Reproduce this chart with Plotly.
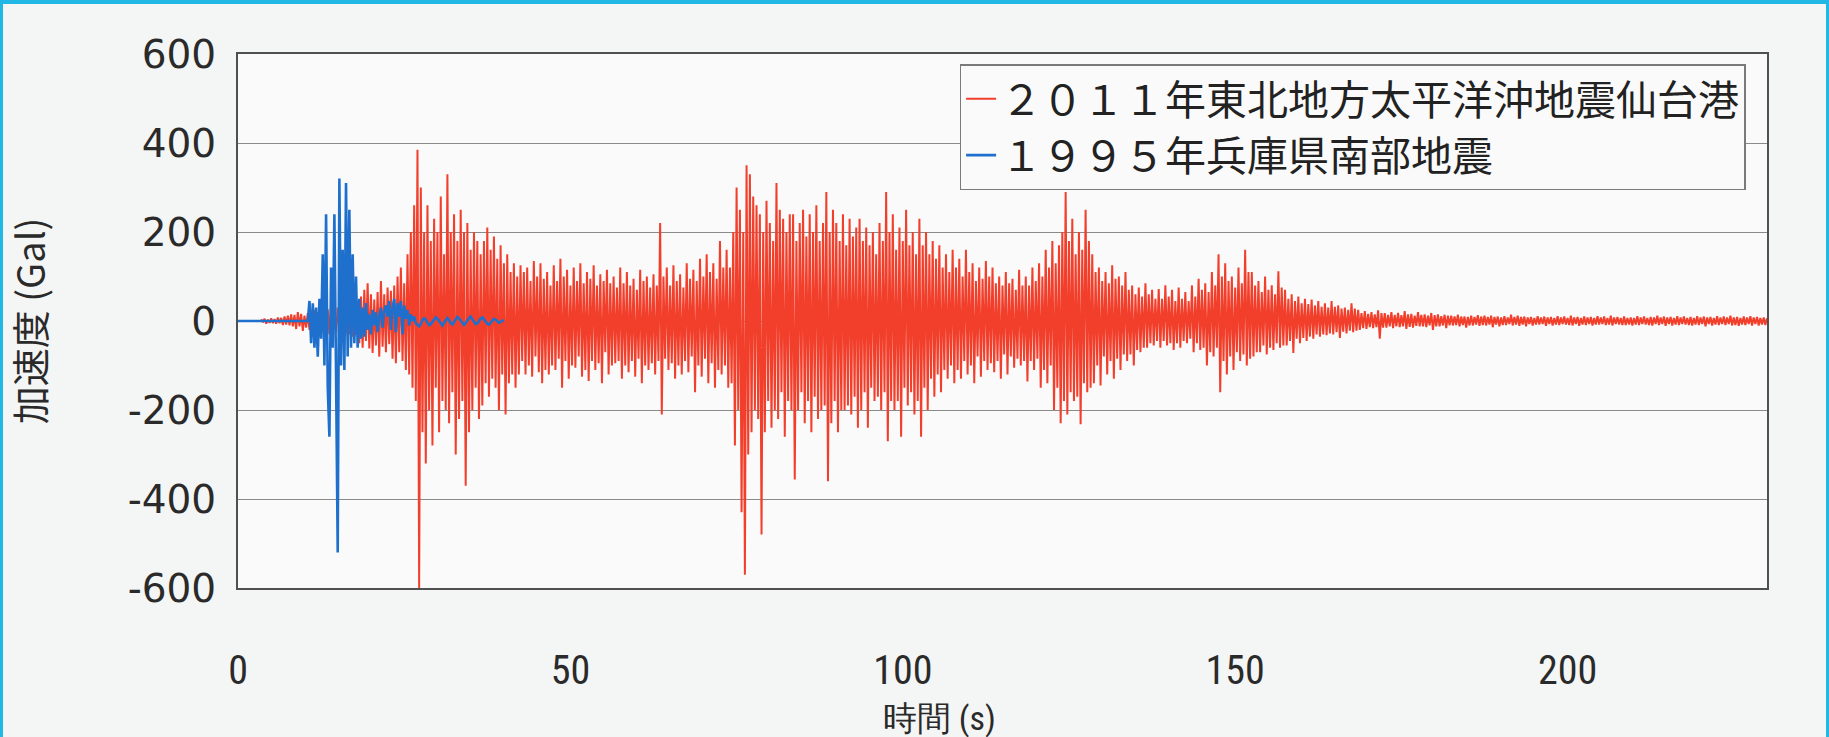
import numpy as np
import plotly.graph_objects as go

# 2011年東北地方太平洋沖地震 — 仙台港: acceleration (Gal), one value every 0.25 s from 3.5 s
SENDAI_T0 = 3.5
SENDAI_DT = 0.25
SENDAI_GAL = [
    4, -3, 5, -6, 3, -4, 6, -5, 4, -6, 8, -5, 7, -9, 10, -8, 12, -10, 15, -12,
    14, -18, 20, -12, 16, -22, 12, -15, 18, -20, 14, -18, 25, -16, 20, -14, 22, -25, 18, -28,
    26, -30, 35, -20, 28, -25, 30, -22, 20, -40, 32, -28, 45, -30, 38, -35, 40, -32, 30, -50,
    55, -60, 70, -45, 85, -62, 60, -72, 48, -55, 65, -80, 90, -58, 60, -70, 75, -52, 68, -85,
    80, -95, 100, -70, 120, -90, 85, -110, 150, -120, 200, -150, 260, -180, 385, -600, 300, -250, 200, -320,
    260, -200, 180, -280, 230, -150, 200, -250, 280, -180, 150, -200, 330, -230, 200, -160, 240, -300, 180, -220,
    250, -180, 200, -370, 220, -250, 160, -200, 200, -150, 180, -220, 150, -190, 180, -140, 210, -170, 160, -130,
    190, -150, 140, -200, 170, -120, 130, -210, 150, -140, 110, -120, 130, -150, 100, -120, 125, -90, 110, -120,
    120, -100, 90, -125, 135, -80, 100, -115, 130, -140, 95, -110, 110, -120, 80, -100, 125, -110, 90, -85,
    140, -150, 100, -90, 115, -130, 80, -100, 120, -105, 90, -80, 130, -125, 85, -110, 110, -135, 95, -90,
    125, -110, 80, -95, 105, -140, 90, -70, 115, -120, 85, -100, 100, -95, 75, -90, 120, -130, 85, -100,
    110, -115, 80, -90, 95, -125, 70, -85, 115, -140, 90, -100, 100, -110, 75, -95, 105, -120, 80, -90,
    220, -210, 100, -85, 120, -110, 80, -95, 125, -130, 90, -100, 105, -120, 75, -90, 130, -115, 95, -80,
    115, -160, 90, -100, 140, -125, 100, -85, 150, -140, 110, -95, 130, -150, 95, -110, 180, -120, 120, -100,
    160, -150, 120, -140, 200, -280, 300, -200, 250, -430, 200, -570, 350, -300, 330, -250, 280, -200, 260, -220,
    240, -480, 200, -250, 270, -180, 220, -240, 180, -200, 310, -220, 250, -160, 230, -260, 200, -180, 240, -200,
    240, -356, 180, -200, 220, -160, 250, -230, 190, -180, 240, -250, 200, -170, 260, -220, 180, -200, 220, -190,
    290, -360, 200, -230, 250, -180, 220, -250, 180, -200, 240, -200, 170, -190, 230, -210, 190, -170, 210, -240,
    230, -200, 180, -160, 210, -240, 170, -150, 200, -180, 150, -170, 220, -200, 180, -160, 290, -270, 200, -180,
    240, -200, 160, -180, 210, -260, 180, -150, 250, -190, 170, -160, 200, -210, 150, -180, 230, -260, 170, -150,
    200, -200, 150, -130, 180, -170, 140, -120, 170, -160, 120, -110, 150, -130, 110, -100, 160, -140, 120, -110,
    140, -130, 100, -90, 160, -120, 110, -100, 130, -140, 90, -80, 120, -125, 95, -90, 135, -110, 100, -95,
    120, -115, 85, -90, 100, -130, 80, -75, 110, -120, 85, -80, 95, -105, 70, -85, 115, -100, 80, -90,
    100, -136, 80, -90, 120, -110, 90, -85, 130, -150, 100, -110, 160, -140, 120, -100, 180, -200, 130, -150,
    170, -230, 200, -180, 290, -210, 180, -160, 230, -180, 150, -170, 200, -232, 160, -140, 250, -160, 180, -150,
    150, -140, 110, -100, 120, -145, 90, -80, 110, -120, 85, -90, 125, -130, 95, -85, 100, -110, 80, -75,
    110, -90, 70, -75, 80, -100, 60, -65, 75, -70, 55, -60, 85, -60, 60, -50, 70, -55, 50, -45,
    72, -60, 50, -45, 80, -55, 55, -50, 70, -65, 45, -50, 75, -60, 50, -45, 65, -50, 45, -40,
    80, -70, 55, -50, 95, -65, 70, -60, 85, -100, 65, -70, 110, -80, 80, -60, 150, -160, 100, -90,
    130, -120, 90, -80, 100, -110, 75, -70, 120, -90, 85, -75, 160, -100, 110, -85, 110, -80, 80, -70,
    90, -70, 65, -55, 100, -75, 70, -60, 80, -65, 60, -50, 112, -60, 75, -55, 70, -55, 50, -45,
    60, -72, 45, -40, 55, -50, 40, -38, 50, -45, 38, -35, 48, -40, 35, -30, 45, -35, 32, -30,
    40, -32, 30, -28, 45, -30, 32, -25, 35, -38, 28, -24, 30, -28, 25, -22, 40, -25, 28, -22,
    25, -20, 18, -16, 22, -18, 16, -14, 20, -16, 15, -14, 24, -40, 18, -15, 18, -15, 14, -12,
    20, -16, 14, -12, 18, -14, 13, -12, 22, -18, 15, -13, 16, -15, 12, -11, 20, -12, 14, -12,
    15, -14, 12, -10, 18, -20, 13, -12, 15, -12, 11, -10, 14, -16, 12, -10, 12, -10, 10, -9,
    14, -12, 10, -9, 10, -15, 9, -10, 12, -10, 9, -8, 13, -11, 10, -9, 12, -10, 9, -8,
    12, -14, 9, -8, 10, -12, 8, -9, 11, -9, 8, -7, 14, -10, 9, -8, 12, -11, 9, -8,
    10, -12, 8, -7, 9, -10, 7, -8, 11, -8, 8, -7, 10, -11, 8, -7, 9, -10, 7, -8,
    11, -9, 8, -7, 10, -8, 7, -9, 12, -10, 8, -7, 9, -11, 7, -8, 10, -9, 8, -7,
    9, -10, 7, -8, 11, -8, 8, -7, 10, -9, 7, -8, 12, -10, 8, -7, 9, -8, 7, -9,
    10, -9, 7, -8, 8, -10, 7, -8, 11, -9, 8, -7, 10, -8, 7, -9, 9, -10, 8, -7,
    12, -9, 8, -7, 10, -11, 8, -7, 9, -10, 7, -8, 11, -9, 8, -7, 10, -8, 7, -9,
    9, -10, 7, -8, 11, -9, 8, -7, 10, -12, 8, -7, 9, -10, 7, -8, 11, -9, 8, -7,
    10, -9, 8, -7, 12, -10, 8, -9, 9, -11, 7, -8, 10, -9, 8, -7, 11, -10, 8, -7,
    9, -10, 7, -8, 8, -9, 6,
]

# 1995年兵庫県南部地震: quiet until 10.5 s, then one value every 0.25 s (Gal)
KOBE_LEAD_T = [0.0]
KOBE_LEAD_GAL = [0]
KOBE_T0 = 10.5
KOBE_DT = 0.25
KOBE_GAL = [
    0, 45, -50, 40, -60, 30, -80, 50, -40, 150,
    -100, 240, -150, -260, 120, -60, 240, -120, -520, 320,
    -100, 160, -110, 310, -80, 250, -60, 150, -50, 100,
    -60, 50, -40, 30, -35, 40, -20, 15, -30, 25,
    -10, 20, -25, 10, 30, -15, 20, 35, 10, 45,
    -20, 30, 50, -25, 40, 10, 45, -30, 35, 5,
    25, -10, 15, 0, 10,
    -5, -8, -12, -6, 2, 6, 3, -4, -9, -7,
    -2, 4, 8, 5, -1, -6, -10, -4, 3, 7,
    2, -5, -8, -3, 4, 9, 6, 0, -6, -9,
    -4, 2, 6, 10, 4, -3, -7, -5, 1, 5,
    8, 3, -2, -6, -8, -3, 2, 5, 3, -1,
    -4, -2, 1, 0,
]

SERIES_NAMES = ["２０１１年東北地方太平洋沖地震仙台港", "１９９５年兵庫県南部地震"]
X_TICKS = [0, 50, 100, 150, 200]
Y_TICKS = [-600, -400, -200, 0, 200, 400, 600]
Y_TICK_TEXT = ["-600", "-400", "-200", "0", "200", "400", "600"]
X_TITLE = "時間 (s)"
Y_TITLE = "加速度 (Gal)"

sendai_t = SENDAI_T0 + SENDAI_DT * np.arange(len(SENDAI_GAL))
kobe_t = np.concatenate([KOBE_LEAD_T, KOBE_T0 + KOBE_DT * np.arange(len(KOBE_GAL))])
kobe_a = KOBE_LEAD_GAL + KOBE_GAL

RED = "#f23f2c"
BLUE = "#1f70cc"
CYAN = "#22b8e6"
INK = "#2a2a2a"
NARROW = "Liberation Sans Narrow, Roboto Condensed, Roboto"

W, H = 1829, 737
ML, MR, MT, MB = 238, 62, 54, 149
PW, PH = W - ML - MR, H - MT - MB


def fx(px):
    return (px - ML) / PW


def fy(py):
    return (H - MB - py) / PH


fig = go.Figure()
fig.add_trace(go.Scatter(x=sendai_t, y=SENDAI_GAL, mode="lines", name=SERIES_NAMES[0],
                         line=dict(color=RED, width=2.0)))
fig.add_trace(go.Scatter(x=kobe_t, y=kobe_a, mode="lines", name=SERIES_NAMES[1],
                         line=dict(color=BLUE, width=2.6)))

# light-blue frame strips along the page edges
frame = [(0, 0, W, 4), (0, 0, 3, H), (W - 3, 0, W, H)]
shapes = [dict(type="rect", xref="paper", yref="paper",
               x0=fx(a), x1=fx(c), y0=fy(d), y1=fy(b),
               fillcolor=CYAN, line=dict(width=0), layer="above")
          for a, b, c, d in frame]

fig.update_layout(
    width=W, height=H,
    margin=dict(l=ML, r=MR, t=MT, b=MB, autoexpand=False),
    paper_bgcolor="#f4f5f5",
    plot_bgcolor="#fafafa",
    showlegend=True,
    shapes=shapes,
    annotations=[dict(text=X_TITLE, xref="paper", yref="paper", x=fx(939), y=fy(718),
                      xanchor="center", yanchor="middle", showarrow=False,
                      font=dict(family=NARROW, size=34, color=INK))],
    legend=dict(
        x=0.986, xanchor="right", y=0.981, yanchor="top",
        bgcolor="#fafafa", bordercolor="#7a7a7a", borderwidth=1.5,
        font=dict(family="Noto Sans CJK JP", size=41, color="#222"),
        tracegroupgap=0, itemwidth=30,
    ),
    xaxis=dict(
        range=[0, 230], tickvals=X_TICKS, showgrid=False, zeroline=False,
        showline=True, mirror=True, linecolor="#505050", linewidth=2,
        ticks="", ticklabelstandoff=46,
        tickfont=dict(family=NARROW, size=40, color=INK),
    ),
    yaxis=dict(
        range=[-600, 600], tickvals=Y_TICKS, ticktext=Y_TICK_TEXT,
        showgrid=True, gridcolor="#8a8a8a", gridwidth=1.2, zeroline=False,
        showline=True, mirror=True, linecolor="#505050", linewidth=2,
        ticks="", ticklabelstandoff=12,
        tickfont=dict(family="DejaVu Sans", size=39, color=INK),
        title=dict(text=Y_TITLE, standoff=70,
                   font=dict(family="Noto Sans CJK JP", size=38, color=INK)),
    ),
)

fig.write_html("out.html")
